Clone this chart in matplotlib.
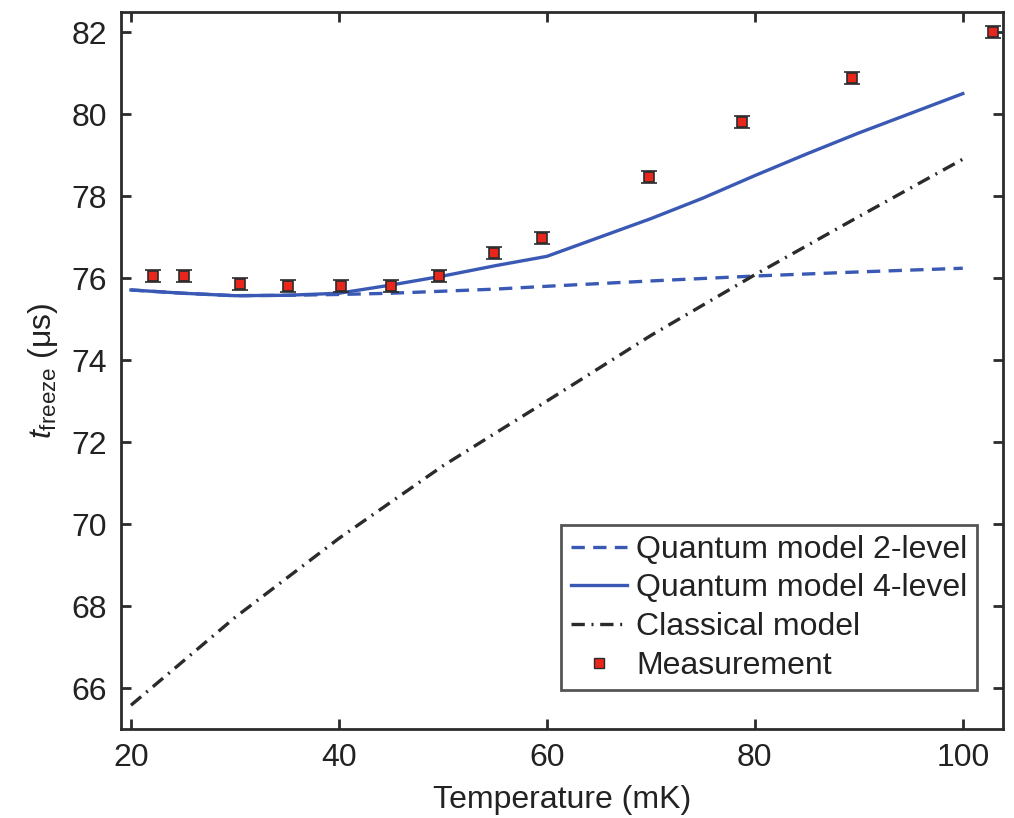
import matplotlib
matplotlib.use("Agg")
import matplotlib.pyplot as plt
from matplotlib.lines import Line2D

plt.rcParams['font.family'] = ['Liberation Sans', 'DejaVu Sans']
plt.rcParams['mathtext.fontset'] = 'custom'
plt.rcParams['mathtext.rm'] = 'Liberation Sans'
plt.rcParams['mathtext.it'] = 'Liberation Sans:italic'

# Measured freeze times
meas_T = [22.1, 25.1, 30.5, 35.1, 40.2, 45.0, 49.6, 54.9, 59.5, 69.8, 78.75, 89.3, 102.9]
meas_t = [76.05, 76.05, 75.86, 75.81, 75.81, 75.81, 76.05, 76.61, 76.98, 78.46, 79.81, 80.88, 82.0]
meas_err = [0.14] * len(meas_T)

# Model curves
model_T = [20, 25, 30, 35, 40, 45, 50, 55, 60, 70, 75, 80, 85, 90, 100]
q4_t = [75.71, 75.63, 75.57, 75.58, 75.63, 75.83, 76.05, 76.3, 76.53, 77.45, 77.95, 78.5, 79.03, 79.54, 80.5]
q2_t = [75.71, 75.63, 75.57, 75.58, 75.6, 75.63, 75.68, 75.73, 75.8, 75.93, 75.99, 76.05, 76.1, 76.15, 76.24]

classical_T = [20, 30, 40, 50, 60, 70, 80, 90, 100]
classical_t = [65.58, 67.72, 69.65, 71.42, 73.0, 74.6, 76.08, 77.5, 78.9]

xticks = [20, 40, 60, 80, 100]
yticks = [66, 68, 70, 72, 74, 76, 78, 80, 82]

blue = '#3a59b4'
red = '#e8261c'
dark = '#2b2b2b'
fs = 23

fig = plt.figure(figsize=(10.14, 8.18), dpi=100)
ax = fig.add_axes([0.1193, 0.1088, 0.8697, 0.8765])

ax.plot(model_T, q2_t, color=blue, lw=2.4, dashes=(4, 2.5))
ax.plot(model_T, q4_t, color=blue, lw=2.4)
ax.plot(classical_T, classical_t, color=dark, lw=2.4, dashes=(4, 2, 0.6, 2))
ax.errorbar(meas_T, meas_t, yerr=meas_err, fmt='s', color=red, mec=dark, mew=1.2,
            ms=7.5, ecolor=dark, elinewidth=1.5, capsize=5.5, capthick=2.2, zorder=5)

ax.set_xlim(19.04, 103.85)
ax.set_ylim(65.0, 82.49)
ax.set_xticks(xticks)
ax.set_yticks(yticks)
ax.tick_params(direction='in', length=7, width=2, color=dark, labelsize=fs,
               top=True, right=True, pad=10, labelcolor='#222222')
for s in ax.spines.values():
    s.set_color(dark)
    s.set_linewidth(2)

ax.set_xlabel('Temperature (mK)', fontsize=fs, color='#222222', labelpad=9)
ax.set_ylabel(r'$t_{\mathrm{freeze}}$ ($\mathrm{\mu}$s)', fontsize=fs, color='#222222', labelpad=8)

handles = [
    Line2D([], [], color=blue, lw=2.4, dashes=(4, 2.5)),
    Line2D([], [], color=blue, lw=2.4),
    Line2D([], [], color=dark, lw=2.4, dashes=(4, 2, 0.6, 2)),
    Line2D([], [], ls='none', marker='s', color=red, mec=dark, mew=1, ms=7),
]
labels = ['Quantum model 2-level', 'Quantum model 4-level', 'Classical model', 'Measurement']
leg = ax.legend(handles, labels, loc='lower right', bbox_to_anchor=(0.971, 0.054),
                fontsize=fs, frameon=True, fancybox=False, handlelength=1.75,
                handletextpad=0.3, labelspacing=0.27, borderpad=0.3, borderaxespad=0)
leg.get_frame().set_edgecolor(dark)
leg.get_frame().set_linewidth(2)
for t in leg.get_texts():
    t.set_color('#222222')

fig.savefig('out.png', dpi=100, facecolor='white')
